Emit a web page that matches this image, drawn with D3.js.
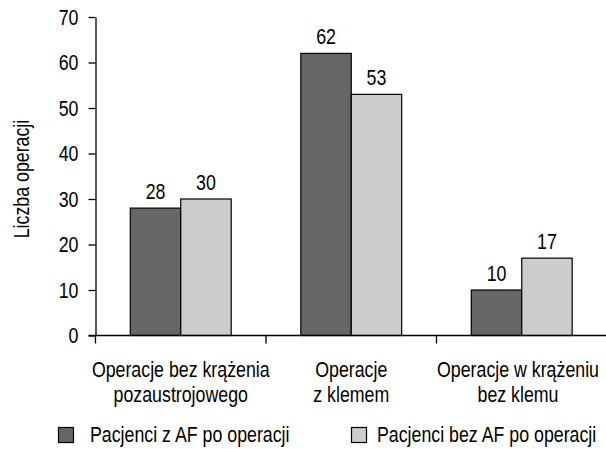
<!DOCTYPE html>
<html><head><meta charset="utf-8">
<script src="https://cdn.jsdelivr.net/npm/d3@7"></script>
<style>body{margin:0;background:#fff}svg{display:block}text{font-family:"Liberation Sans",Arial,sans-serif;fill:#000}</style>
</head><body><svg id="c" width="606" height="449"></svg>
<script>
const categories = [["Operacje bez krążenia","pozaustrojowego"],["Operacje","z klemem"],["Operacje w krążeniu","bez klemu"]];
const seriesNames = ["Pacjenci z AF po operacji","Pacjenci bez AF po operacji"];
const withAF = [28, 62, 10];
const withoutAF = [30, 53, 17];
const yTicks = [0,10,20,30,40,50,60,70];
const colors = ["#666666","#cccccc"];

const FS = 22.5, SQ = 0.79;
const svg = d3.select("#c");
const x0 = 95.5, x1 = 606, yTop = 17, yBot = 335.5;
const x = d3.scaleBand().domain(d3.range(categories.length)).range([x0, x0+170.5*3]).paddingInner(0).paddingOuter(0);
const xs = d3.scaleBand().domain([0,1]).range([0, x.bandwidth()]).paddingInner(0).paddingOuter(0.69);
const y = d3.scaleLinear().domain([0,70]).range([yBot, yTop]);

// y axis
const ya = d3.axisLeft(y).tickValues(yTicks).tickSize(7).tickPadding(10).tickSizeOuter(0);
const yg = svg.append("g").attr("transform",`translate(${x0},0)`).call(ya);
yg.select(".domain").attr("stroke","#000").attr("stroke-width",1.3);
yg.selectAll(".tick line").attr("stroke","#000").attr("stroke-width",1.3);
yg.selectAll(".tick text").attr("font-size",FS).attr("fill","#000").attr("font-family",null);

// bars
const data = [withAF, withoutAF];
data.forEach((vals, si) => {
  svg.append("g").selectAll("rect").data(vals).join("rect")
    .attr("x",(d,i)=>x(i)+xs(si))
    .attr("width",xs.bandwidth())
    .attr("y",d=>y(d))
    .attr("height",d=>yBot-y(d))
    .attr("fill",colors[si]).attr("stroke","#000").attr("stroke-width",1.2);
  svg.append("g").selectAll("text").data(vals).join("text")
    .attr("x",(d,i)=>x(i)+xs(si)+xs.bandwidth()/2)
    .attr("y",d=>y(d)-9)
    .attr("text-anchor","middle").attr("font-size",FS).text(d=>d);
});

// x axis
svg.append("line").attr("x1",x0-7).attr("x2",x1).attr("y1",yBot).attr("y2",yBot).attr("stroke","#000").attr("stroke-width",1.3);
svg.append("g").selectAll("line").data(d3.range(categories.length)).join("line")
  .attr("x1",i=>x(i)).attr("x2",i=>x(i)).attr("y1",yBot).attr("y2",yBot+8)
  .attr("stroke","#000").attr("stroke-width",1.3);
svg.append("g").selectAll("g").data(categories).join("g")
  .attr("transform",(d,i)=>`translate(${Math.min(x(i)+x.bandwidth()/2, 518)},0)`)
  .each(function(d){
    d3.select(this).selectAll("text").data(d).join("text")
      .attr("text-anchor","middle").attr("font-size",FS)
      .attr("x",0).attr("y",(t,j)=>377+j*25).text(t=>t);
  });

// y title
svg.append("text").attr("transform","translate(29,179) rotate(-90)")
  .attr("text-anchor","middle").attr("font-size",FS).text("Liczba operacji");

// legend
const legX = [58, 351], legTX = [90, 377];
seriesNames.forEach((n,i)=>{
  svg.append("rect").attr("x",legX[i]+0.5).attr("y",427.5).attr("width",15).attr("height",15)
    .attr("fill",colors[i]).attr("stroke","#000").attr("stroke-width",1.2);
  svg.append("text").attr("x",legTX[i]).attr("y",442).attr("font-size",FS).text(n);
});

// condense all texts horizontally (narrow face emulation)
svg.selectAll("text").each(function(){
  const el = d3.select(this);
  const ax = +el.attr("x") || 0;
  const t = el.attr("transform") || "";
  el.attr("transform", `${t} translate(${ax},0) scale(${SQ},1) translate(${-ax},0)`);
});
</script></body></html>
